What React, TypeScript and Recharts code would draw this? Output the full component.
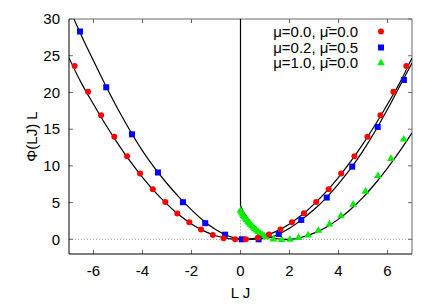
import React from 'react';
import { ComposedChart, XAxis, YAxis, Line, Scatter, ReferenceLine, Legend, Label } from 'recharts';

const FONT = '"Liberation Sans", Arial, Helvetica, sans-serif';

const X_TICKS = [-6, -4, -2, 0, 2, 4, 6];
const Y_TICKS = [0, 5, 10, 15, 20, 25, 30];
const X_DOMAIN = [-7, 7];
const Y_DOMAIN = [-2, 30];

const LEGEND_LABELS = ['\u03bc=0.0, \u03bc\u0304=0.0', '\u03bc=0.2, \u03bc\u0304=0.5', '\u03bc=1.0, \u03bc\u0304=0.0'];
const SERIES_COLORS = ['#ff0000', '#0000ff', '#00ee00'];
const X_LABEL = 'L J';
const Y_LABEL = '\u03a6(LJ) L';

// data points
const RED_X = [-6.77, -6.22, -5.69, -5.15, -4.63, -4.10, -3.58, -3.07, -2.58, -2.09, -1.61, -1.13, -0.69, -0.22, 0.22, 0.71, 1.16, 1.63, 2.10, 2.59, 3.09, 3.60, 4.11, 4.65, 5.18, 5.71, 6.24, 6.77];
const RED_Y = [23.6, 20.1, 16.9, 13.96, 11.3, 8.96, 6.82, 5.09, 3.5, 2.32, 1.32, 0.59, 0.15, 0.0, 0.0, 0.2, 0.64, 1.32, 2.32, 3.55, 5.09, 6.82, 8.96, 11.3, 13.96, 16.9, 20.1, 23.6];

const BLUE_X = [-6.55, -5.48, -4.43, -3.37, -2.35, -1.44, -0.63, 0.05, 0.74, 1.56, 2.48, 3.52, 4.56, 5.60, 6.67];
const BLUE_Y = [28.3, 20.7, 14.3, 9.1, 5.05, 2.2, 0.63, 0.0, 0.0, 0.73, 2.64, 5.69, 9.9, 15.3, 21.7];

const GREEN_X = [0, 0.04, 0.08, 0.12, 0.16, 0.2, 0.25, 0.3, 0.35, 0.4, 0.46, 0.52, 0.58, 0.65, 0.72, 0.8, 0.88, 0.96, 1.05, 1.34, 1.68, 2.02, 2.37, 2.76, 3.18, 3.63, 4.10, 4.60, 5.10, 5.61, 6.14, 6.66];
const GREEN_Y = [4.0, 3.75, 3.5, 3.3, 3.1, 2.9, 2.7, 2.5, 2.3, 2.1, 1.9, 1.7, 1.5, 1.3, 1.1, 0.9, 0.7, 0.55, 0.4, 0.1, 0.0, 0.04, 0.3, 0.64, 1.27, 2.14, 3.32, 4.82, 6.6, 8.73, 11.05, 13.7];

// fit curves
const RED_FIT_X = [-7, -6.5, -6, -5.5, -5, -4.5, -4, -3.5, -3, -2.5, -2, -1.5, -1, -0.5, 0, 0.5, 1, 1.5, 2, 2.5, 3, 3.5, 4, 4.5, 5, 5.5, 6, 6.5, 7];
const RED_FIT_Y = [24.7, 21.3, 18.4, 15.6, 13.0, 10.6, 8.45, 6.5, 4.8, 3.3, 2.1, 1.15, 0.48, 0.1, 0, 0.1, 0.48, 1.15, 2.1, 3.3, 4.8, 6.5, 8.45, 10.6, 13.0, 15.6, 18.4, 21.3, 24.7];

const BLUE_FIT_X = [-6.8, -6.5, -6, -5.5, -5, -4.5, -4, -3.5, -3, -2.5, -2, -1.5, -1, -0.5, 0, 0.4, 1, 1.5, 2, 2.5, 3, 3.5, 4, 4.5, 5, 5.5, 6, 6.5, 7];
const BLUE_FIT_Y = [30, 27.8, 24.3, 20.9, 17.7, 14.75, 12.05, 9.7, 7.6, 5.7, 4.0, 2.5, 1.3, 0.45, 0.06, 0, 0.12, 0.62, 1.5, 2.68, 4.05, 5.65, 7.55, 9.65, 12.05, 14.75, 17.7, 20.85, 24.0];

const GREEN_FIT_X = [0, 0.1, 0.25, 0.5, 0.75, 1.0, 1.25, 1.5, 1.8, 2.1, 2.5, 3, 3.5, 4, 4.5, 5, 5.5, 6, 6.5, 7];
const GREEN_FIT_Y = [4.6, 3.85, 3.1, 2.0, 1.2, 0.62, 0.28, 0.08, 0, 0.02, 0.28, 0.85, 1.65, 2.75, 4.1, 5.7, 7.6, 9.7, 12.0, 14.5];
const GREEN_WALL_Y = [30, 4.6];

const zip = (xs: number[], ys: number[]) => xs.map((x, i) => ({ x, y: ys[i] }));

const redPts = zip(RED_X, RED_Y);
const bluePts = zip(BLUE_X, BLUE_Y);
const greenPts = zip(GREEN_X, GREEN_Y);
const redFit = zip(RED_FIT_X, RED_FIT_Y);
const blueFit = zip(BLUE_FIT_X, BLUE_FIT_Y);
const greenFit = zip(GREEN_FIT_X, GREEN_FIT_Y);
const greenWall = GREEN_WALL_Y.map((y) => ({ x: 0, y }));

const Circle = (p: any) => <circle cx={p.cx} cy={p.cy} r={3} fill={SERIES_COLORS[0]} />;
const Square = (p: any) => <rect x={p.cx - 3} y={p.cy - 3} width={6} height={6} fill={SERIES_COLORS[1]} />;
const Tri = (p: any) => (
  <polygon points={`${p.cx},${p.cy - 3.8} ${p.cx - 3.8},${p.cy + 2.8} ${p.cx + 3.8},${p.cy + 2.8}`} fill={SERIES_COLORS[2]} />
);

const markerSvg = (i: number) => {
  const cx = 23, cy = 7.5;
  if (i === 0) return <circle cx={cx} cy={cy} r={3} fill={SERIES_COLORS[0]} />;
  if (i === 1) return <rect x={cx - 3} y={cy - 3} width={6} height={6} fill={SERIES_COLORS[1]} />;
  return <polygon points={`${cx},${cy - 3.8} ${cx - 3.8},${cy + 2.8} ${cx + 3.8},${cy + 2.8}`} fill={SERIES_COLORS[2]} />;
};

const renderLegend = () => (
  <div style={{ fontFamily: FONT, fontSize: 15, color: '#000' }}>
    {LEGEND_LABELS.map((t, i) => (
      <div key={i} style={{ display: 'flex', alignItems: 'center', height: 15.5, lineHeight: '15.5px' }}>
        <span style={{ width: 110, textAlign: 'right', whiteSpace: 'nowrap' }}>{t}</span>
        <svg width={30} height={15} style={{ display: 'block' }}>{markerSvg(i)}</svg>
      </div>
    ))}
  </div>
);

const YLabel = (props: any) => {
  const vb = props.viewBox || { x: 0, y: 19, width: 69, height: 235 };
  const cx = vb.x + 31.5;
  const cy = vb.y + vb.height / 2;
  return (
    <text x={cx} y={cy} transform={`rotate(-90 ${cx} ${cy})`} textAnchor="middle" dominantBaseline="central"
      style={{ fontFamily: FONT, fontSize: 15, fill: '#000' }}>{Y_LABEL}</text>
  );
};

const TICK_DX = 0.16;
const TICK_DY = 0.55;
const FRAME_GRAY = '#666';

export default function App() {
  return (
    <div style={{ position: 'absolute', left: 0, top: 0 }}>
      <ComposedChart width={436} height={305} margin={{ top: 19, right: 24, bottom: 0, left: 0 }}>
        <XAxis type="number" dataKey="x" domain={X_DOMAIN} ticks={X_TICKS} allowDataOverflow
          height={51} tickLine={false} tickMargin={5} axisLine={{ stroke: '#000' }}
          tick={{ fill: '#000', fontSize: 15, fontFamily: FONT }}>
          <Label value={X_LABEL} position="insideBottom" offset={7} style={{ fontFamily: FONT, fontSize: 15, fill: '#000' }} />
        </XAxis>
        <YAxis type="number" dataKey="y" domain={Y_DOMAIN} ticks={Y_TICKS} allowDataOverflow
          width={69} tickLine={false} tickMargin={3} axisLine={{ stroke: '#000' }}
          tick={{ fill: '#000', fontSize: 15, fontFamily: FONT }}>
          <Label content={<YLabel />} />
        </YAxis>

        {/* zero axes */}
        <ReferenceLine y={0} stroke="#999" strokeDasharray="1 2" />
        <ReferenceLine segment={[{ x: 0, y: 0 }, { x: 0, y: 30 }]} stroke="#999" strokeDasharray="1 2" />

        {/* frame top & right */}
        <ReferenceLine y={30} stroke={FRAME_GRAY} />
        <ReferenceLine x={7} stroke={FRAME_GRAY} />

        {/* ticks */}
        {X_TICKS.map((t) => (
          <ReferenceLine key={'xb' + t} segment={[{ x: t, y: -2 }, { x: t, y: -2 + TICK_DY }]} stroke={FRAME_GRAY} />
        ))}
        {X_TICKS.map((t) => (
          <ReferenceLine key={'xt' + t} segment={[{ x: t, y: 30 }, { x: t, y: 30 - TICK_DY }]} stroke={FRAME_GRAY} />
        ))}
        {Y_TICKS.map((t) => (
          <ReferenceLine key={'yl' + t} segment={[{ x: -7, y: t }, { x: -7 + TICK_DX, y: t }]} stroke={FRAME_GRAY} />
        ))}
        {Y_TICKS.map((t) => (
          <ReferenceLine key={'yr' + t} segment={[{ x: 7, y: t }, { x: 7 - TICK_DX, y: t }]} stroke={FRAME_GRAY} />
        ))}

        {/* fits */}
        <Line data={redFit} dataKey="y" type="monotone" stroke="#000" strokeWidth={1.2} dot={false} activeDot={false} isAnimationActive={false} legendType="none" />
        <Line data={blueFit} dataKey="y" type="monotone" stroke="#000" strokeWidth={1.2} dot={false} activeDot={false} isAnimationActive={false} legendType="none" />
        <Line data={greenFit} dataKey="y" type="monotone" stroke="#000" strokeWidth={1.2} dot={false} activeDot={false} isAnimationActive={false} legendType="none" />
        <Line data={greenWall} dataKey="y" type="linear" stroke="#000" strokeWidth={1.2} dot={false} activeDot={false} isAnimationActive={false} legendType="none" />

        {/* data */}
        <Scatter data={greenPts} dataKey="y" shape={Tri} isAnimationActive={false} />
        <Scatter data={bluePts} dataKey="y" shape={Square} isAnimationActive={false} />
        <Scatter data={redPts} dataKey="y" shape={Circle} isAnimationActive={false} />

        <Legend layout="vertical" align="center" verticalAlign="middle" content={renderLegend}
          wrapperStyle={{ position: 'absolute', top: 24, left: 248, width: 150, height: 47 }} />
      </ComposedChart>
    </div>
  );
}
